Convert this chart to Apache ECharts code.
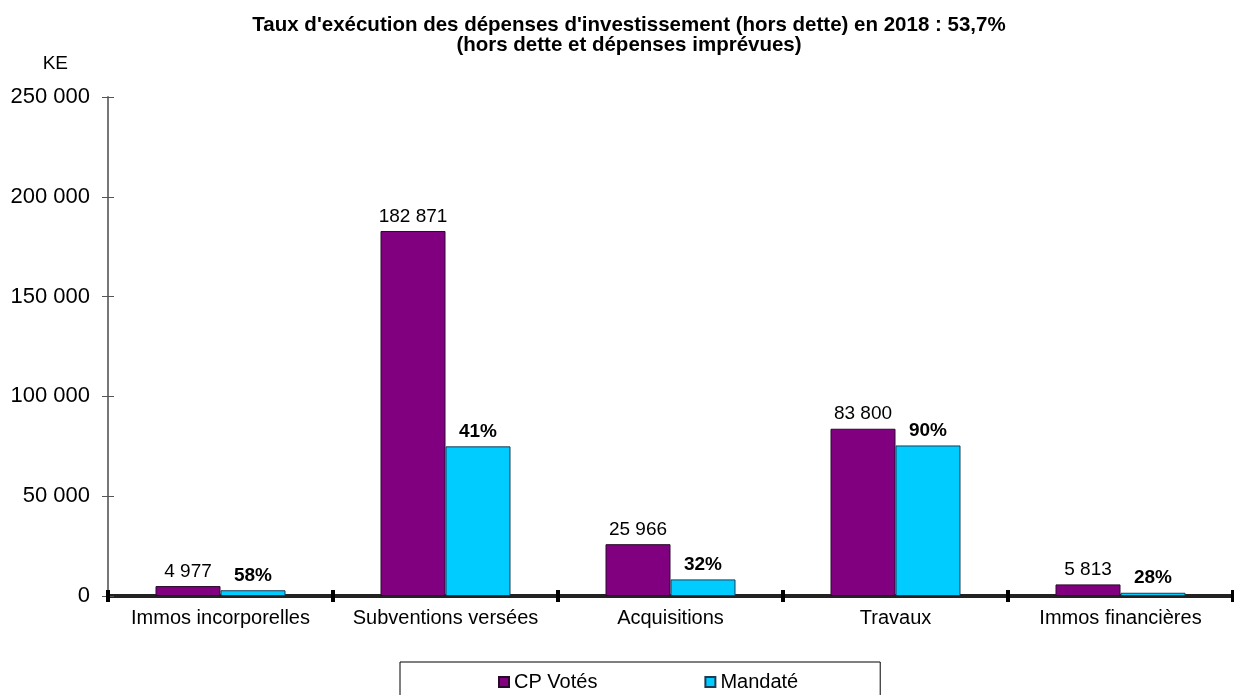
<!DOCTYPE html>
<html>
<head>
<meta charset="utf-8">
<script src="https://cdn.jsdelivr.net/npm/echarts@6/dist/echarts.min.js"></script>
<style>html,body{margin:0;padding:0;background:#fff;}#c{width:1234px;height:695px;}</style>
</head>
<body>
<div id="c"></div>
<script>
var categories = ["Immos incorporelles", "Subventions versées", "Acquisitions", "Travaux", "Immos financières"];
var cpVotes = [4977, 182871, 25966, 83800, 5813];
var mandate = [2887, 74977, 8309, 75420, 1628];
var tauxLabels = ["58%", "41%", "32%", "90%", "28%"];
var yTicks = [0, 50000, 100000, 150000, 200000, 250000];

function fmt(v) { return String(v).replace(/\B(?=(\d{3})+(?!\d))/g, ' '); }

var FONT = '"Liberation Sans", Arial, sans-serif';
var chart = echarts.init(document.getElementById('c'));
chart.setOption({
  animation: false,
  backgroundColor: '#fff',
  textStyle: { fontFamily: FONT },
  title: {
    text: "Taux d'exécution des dépenses d'investissement (hors dette) en 2018 : 53,7%\n(hors dette et dépenses imprévues)",
    left: 624, top: 10, textAlign: 'center',
    textStyle: { fontFamily: FONT, fontSize: 20.5, fontWeight: 'bold', color: '#000', lineHeight: 20 }
  },
  legend: {
    data: ['CP Votés', 'Mandaté'],
    left: 400, top: 662,
    padding: [10, 82, 20, 98],
    itemGap: 107,
    itemWidth: 10, itemHeight: 10,
    icon: 'rect',
    borderColor: '#000', borderWidth: 1,
    textStyle: { fontFamily: FONT, fontSize: 20, color: '#000' }
  },
  grid: { left: 108, right: 1, top: 97, bottom: 99, containLabel: false },
  xAxis: [{
    type: 'category',
    data: categories,
    position: 'bottom',
    axisLine: { lineStyle: { color: '#222', width: 4 } },
    axisTick: { show: true, length: 6, lineStyle: { color: '#000', width: 4 } },
    axisLabel: { interval: 0, fontFamily: FONT, fontSize: 20, color: '#000', margin: 12 }
  }, {
    type: 'category',
    data: categories,
    position: 'bottom',
    axisLine: { show: false },
    axisTick: { show: true, inside: true, length: 6, lineStyle: { color: '#000', width: 4 } },
    axisLabel: { show: false }
  }],
  yAxis: [{
    type: 'value',
    min: yTicks[0], max: yTicks[yTicks.length - 1], interval: 50000,
    position: 'left',
    name: 'KE',
    nameLocation: 'end',
    nameGap: 24,
    nameTextStyle: { fontFamily: FONT, fontSize: 19, color: '#000', align: 'right', padding: [0, 40, 0, 0] },
    axisLine: { show: true, lineStyle: { color: '#777', width: 2 } },
    axisTick: { show: true, length: 6, lineStyle: { color: '#555' } },
    splitLine: { show: false },
    axisLabel: { fontFamily: FONT, fontSize: 22, color: '#000', margin: 18, formatter: function (v) { return fmt(v); } }
  }, {
    type: 'value',
    min: yTicks[0], max: yTicks[yTicks.length - 1], interval: 50000,
    position: 'left',
    axisLine: { show: false },
    axisTick: { show: true, inside: true, length: 6, lineStyle: { color: '#555' } },
    splitLine: { show: false },
    axisLabel: { show: false }
  }],
  series: [
    {
      name: 'CP Votés', type: 'bar', data: cpVotes,
      barWidth: 65, barGap: '0%',
      itemStyle: { color: '#800080', borderColor: '#2a0a2a', borderWidth: 1 },
      label: { show: true, position: 'top', distance: 5, fontFamily: FONT, fontSize: 19, color: '#000',
        formatter: function (p) { return fmt(p.value); } }
    },
    {
      name: 'Mandaté', type: 'bar', data: mandate,
      barWidth: 65,
      itemStyle: { color: '#00CCFF', borderColor: '#1d3b55', borderWidth: 1 },
      label: { show: true, position: 'top', distance: 5, fontFamily: FONT, fontSize: 19, fontWeight: 'bold', color: '#000',
        formatter: function (p) { return tauxLabels[p.dataIndex]; } }
    }
  ]
});
</script>
</body>
</html>
